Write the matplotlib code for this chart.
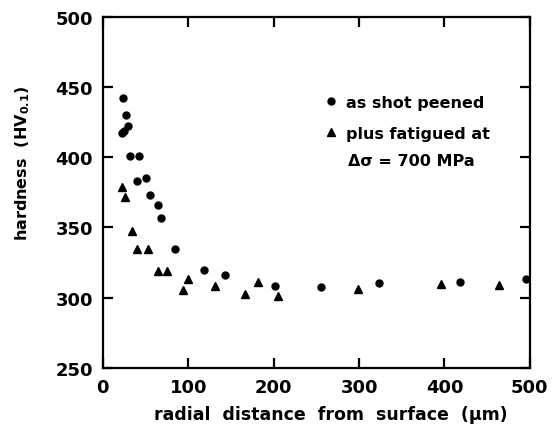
import matplotlib.pyplot as plt

# as shot peened (circles)
peened_x = [24, 27, 29, 22, 25, 32, 42, 40, 50, 55, 65, 68, 84, 119, 143, 201, 256, 323, 418, 495]
peened_y = [442, 430, 422, 417, 419, 401, 401, 383, 385, 373, 366, 357, 335, 319.5, 316, 308, 307.5, 310.5, 311, 313.5]

# plus fatigued at 700 MPa (triangles)
fatigued_x = [22, 26, 34, 40.5, 53, 64, 75, 99.5, 94, 131, 166, 181.5, 205, 299, 396, 464]
fatigued_y = [378.5, 372, 347.5, 334.5, 334.5, 319, 319, 313, 305.5, 308.5, 302.5, 311.5, 301, 306.5, 309.5, 309]

xticks = [0, 100, 200, 300, 400, 500]
yticks = [250, 300, 350, 400, 450, 500]

fig = plt.figure(figsize=(5.56, 4.35), dpi=100)
ax = fig.add_axes([0.185, 0.152, 0.768, 0.807])

ax.plot(peened_x, peened_y, 'ko', markersize=5, linestyle='none', label='as shot peened')
ax.plot(fatigued_x, fatigued_y, 'k^', markersize=6, linestyle='none', label='plus fatigued at')

ax.set_xlim(0, 500)
ax.set_ylim(250, 500)
ax.set_xticks(xticks)
ax.set_yticks(yticks)

for s in ax.spines.values():
    s.set_linewidth(1.6)
ax.tick_params(direction='in', length=7, width=1.6, top=True, right=True, pad=7)
for lab in ax.get_xticklabels() + ax.get_yticklabels():
    lab.set_fontsize(13)
    lab.set_fontweight('bold')

ax.set_xlabel('radial  distance  from  surface  (\u00b5m)', fontsize=12.5, fontweight='bold')
ax.xaxis.set_label_coords(0.535, -0.105)
ax.set_ylabel('hardness  (HV$_{\\mathbf{0.1}}$)', fontsize=11.5, fontweight='bold')
ax.yaxis.set_label_coords(-0.165, 0.585)

leg = ax.legend(loc='upper left', bbox_to_anchor=(0.505, 0.80), frameon=False,
                prop={'size': 11.5, 'weight': 'bold'}, handlelength=0.6,
                handletextpad=0.6, labelspacing=1.0, borderpad=0)
ax.text(0.574, 0.59, '\u0394\u03c3 = 700 MPa', transform=ax.transAxes,
        fontsize=11.5, fontweight='bold', va='center', ha='left')

fig.savefig('out.png', dpi=100)
